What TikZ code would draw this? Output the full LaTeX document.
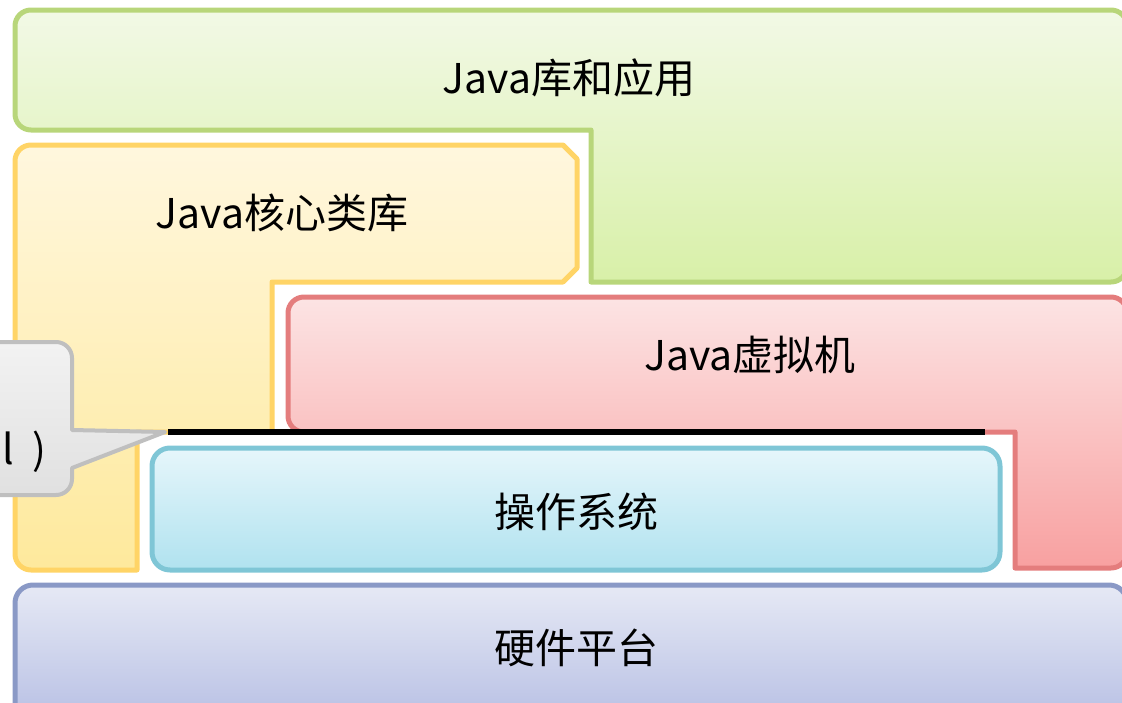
\documentclass[tikz,border=0pt]{standalone}
\usepackage{fontspec}
\setmainfont{Noto Sans CJK SC}
\usetikzlibrary{positioning}
\definecolor{appdraw}{RGB}{184, 214, 122}
\definecolor{apptop}{RGB}{242, 249, 230}
\definecolor{appbot}{RGB}{216, 240, 168}
\definecolor{coredraw}{RGB}{255, 212, 102}
\definecolor{coretop}{RGB}{255, 247, 222}
\definecolor{corebot}{RGB}{254, 233, 156}
\definecolor{jvmdraw}{RGB}{228, 125, 125}
\definecolor{jvmtop}{RGB}{252, 228, 228}
\definecolor{jvmbot}{RGB}{248, 160, 160}
\definecolor{osdraw}{RGB}{127, 198, 214}
\definecolor{ostop}{RGB}{230, 246, 251}
\definecolor{osbot}{RGB}{176, 226, 239}
\definecolor{hwdraw}{RGB}{138, 153, 198}
\definecolor{hwtop}{RGB}{230, 233, 245}
\definecolor{hwbot}{RGB}{184, 192, 228}

\begin{document}
\begin{tikzpicture}[
    x=1pt, y=-1pt,
    layer/.style={line width=5pt, line join=round},
    applayer/.style={layer, draw=appdraw, top color=apptop, bottom color=appbot},
    corelayer/.style={layer, draw=coredraw, top color=coretop, bottom color=corebot},
    jvmlayer/.style={layer, draw=jvmdraw, top color=jvmtop, bottom color=jvmbot},
    oslayer/.style={layer, draw=osdraw, top color=ostop, bottom color=osbot},
    hwlayer/.style={layer, draw=hwdraw, top color=hwtop, bottom color=hwbot},
    callout/.style={line width=4pt, line join=round, draw=black!25, top color=black!5, bottom color=black!12},
    label/.style={font=\fontsize{41}{48}\selectfont, inner sep=0pt}
]
    \useasboundingbox (0,0) rectangle (1122,702);

    % Java libraries and applications
    \path[applayer] (591,206) -- (591,282) [rounded corners=16pt] -- (1127,282) -- (1127,10)
        -- (15,10) -- (15,130) [sharp corners] -- (591,130) -- cycle;

    % core class library
    \path[corelayer] (204,432) -- (272,432) -- (272,282) -- (563,282) -- (577,268) -- (577,159) -- (563,145)
        [rounded corners=16pt] -- (15,145) -- (15,570) [sharp corners] -- (137,570) -- (137,432) -- cycle;

    % virtual machine
    \path[jvmlayer] (1015,500) -- (1015,568) [rounded corners=16pt] -- (1127,568) -- (1127,297)
        -- (288,297) -- (288,432) [sharp corners] -- (1015,432) -- cycle;

    % operating system and hardware
    \path[oslayer, rounded corners=18pt] (152,448) rectangle (1000,570);
    \path[hwlayer, rounded corners=18pt] (15,585) rectangle (1127,720);

    \draw[line width=6pt] (168,432) -- (985,432);

    % callout
    \path[callout] (72,430) -- (165,432) -- (72,468) [rounded corners=16pt] -- (72,495)
        -- (-60,495) -- (-60,342) -- (72,342) [sharp corners] -- cycle;

    \node[label] (app) at (569,78) {Java库和应用};
    \node[label] (core) at (282,213) {Java核心类库};
    \node[label] (jvm) at (750,355) {Java虚拟机};
    \node[label] (os) at (576,512) {操作系统};
    \node[label] (hw) at (576,648) {硬件平台};
    \node[label, anchor=east] (note) at (47,452) {l\hspace{0.45em})};
\end{tikzpicture}
\end{document}
